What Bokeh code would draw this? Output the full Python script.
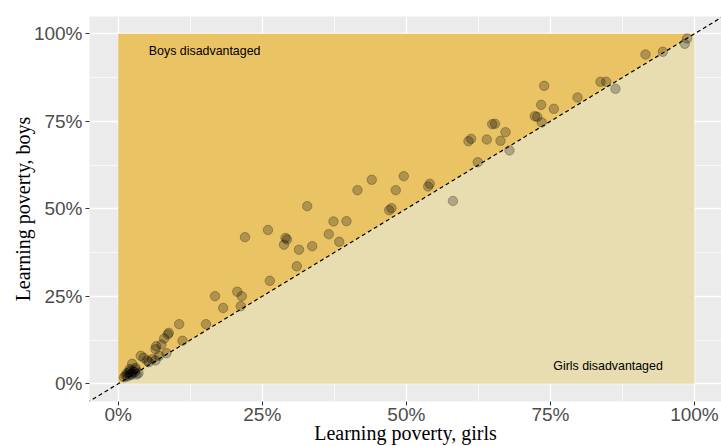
from bokeh.plotting import figure
from bokeh.models import Range1d, FixedTicker, NumeralTickFormatter, Label
from bokeh.embed import file_html
from bokeh.resources import INLINE

# Learning poverty (%) per country
girls = [1.27, 1.79, 2.13, 2.48, 2.65, 3.0, 2.43, 3.0, 3.52, 1.61, 1.96, 3.18, 1.0, 2.2, 2.9, 2.0, 1.5,
         3.92, 4.44, 5.03, 5.31, 5.9, 6.47, 6.59, 6.47, 7.11, 7.51, 7.98, 8.61, 8.78, 8.38, 10.58, 11.16,
         15.24, 16.8, 18.22, 20.65, 21.45, 21.27, 22.0, 25.99, 26.31, 29.03, 29.29, 28.77, 31.37, 30.99,
         32.8, 33.66, 36.54, 37.36, 38.35, 39.61, 41.52, 44.0, 47.02, 47.42, 48.17, 49.56, 53.79, 54.07,
         58.09, 60.78, 61.25, 62.4, 63.96, 64.9, 65.38, 66.34, 67.21, 67.9, 72.29, 72.71, 73.4, 73.5,
         73.92, 75.59, 79.7, 83.69, 84.68, 86.29, 91.5, 94.5, 98.32, 98.73]
boys = [2.37, 3.23, 3.8, 2.94, 3.51, 4.09, 5.71, 4.57, 3.03, 2.09, 2.66, 2.66, 1.8, 2.5, 3.3, 4.2, 3.0,
        8.0, 7.43, 6.66, 6.17, 7.03, 9.89, 10.74, 6.66, 8.0, 11.23, 12.94, 14.09, 14.57, 8.74, 17.03, 12.29,
        17.03, 25.03, 21.66, 26.31, 25.03, 22.17, 41.89, 43.94, 29.43, 41.66, 41.23, 39.74, 38.31, 33.57,
        50.74, 39.31, 42.74, 46.37, 40.57, 46.46, 55.31, 58.29, 49.6, 50.17, 55.31, 59.31, 56.37, 57.14,
        52.23, 69.31, 70.0, 63.31, 69.8, 74.17, 74.29, 69.43, 71.89, 66.66, 76.46, 76.29, 79.71, 74.66,
        85.14, 78.57, 81.8, 86.29, 86.29, 84.29, 94.09, 94.86, 97.14, 98.66]

limits = [0.0, 1.0]
major_ticks = [0.0, 0.25, 0.5, 0.75, 1.0]
minor_ticks = [0.125, 0.375, 0.625, 0.875]
labels = ["Boys disadvantaged", "Girls disadvantaged"]
label_pos = [(0.15, 0.95), (0.85, 0.05)]
x_title = "Learning poverty, girls"
y_title = "Learning poverty, boys"

gx = [v / 100 for v in girls]
by = [v / 100 for v in boys]

p = figure(width=721, height=446, output_backend="svg", toolbar_location=None,
           x_range=Range1d(-0.0498, 1.0469), y_range=Range1d(-0.0506, 1.0494),
           min_border_left=89, min_border_right=0, min_border_top=16, min_border_bottom=45)
p.background_fill_color = "#EBEBEB"
p.border_fill_color = "white"
p.outline_line_color = None

lo, hi = limits
# shaded regions
p.patch([lo, lo, hi], [lo, hi, hi], fill_color="#EAC364", line_color=None)
p.patch([lo, hi, hi], [lo, lo, hi], fill_color="#E7DDB0", line_color=None)

# 45-degree reference line
p.line([lo - 0.2, hi + 0.2], [lo - 0.2, hi + 0.2], line_color="black", line_width=1.2, line_dash="4 3")

p.scatter(gx, by, size=9.5, fill_color="black", fill_alpha=0.25, line_color="black", line_alpha=0.25)

for txt, (tx, ty) in zip(labels, label_pos):
    p.add_layout(Label(x=tx, y=ty, text=txt, text_align="center", text_baseline="middle",
                       text_font="Liberation Sans", text_font_size="12.4px", text_color="black"))

for ax in (p.xaxis[0], p.yaxis[0]):
    ax.ticker = FixedTicker(ticks=major_ticks, minor_ticks=minor_ticks)
    ax.formatter = NumeralTickFormatter(format="0%")
    ax.axis_line_color = None
    ax.major_tick_out = 4
    ax.major_tick_in = 0
    ax.minor_tick_out = 0
    ax.minor_tick_in = 0
    ax.major_tick_line_color = "#333333"
    ax.major_label_text_font = "Liberation Sans"
    ax.major_label_text_font_size = "19px"
    ax.major_label_text_color = "#4D4D4D"
    ax.axis_label_text_font = "Liberation Serif"
    ax.axis_label_text_font_size = "20px"
    ax.axis_label_text_font_style = "normal"
    ax.axis_label_text_color = "black"

p.xaxis.axis_label = x_title
p.yaxis.axis_label = y_title
p.xaxis.major_label_standoff = -2
p.xaxis.axis_label_standoff = -6
p.yaxis.major_label_standoff = 3
p.yaxis.axis_label_standoff = -3

for g in (p.xgrid[0], p.ygrid[0]):
    g.grid_line_color = "white"
    g.grid_line_width = 1.4
    g.minor_grid_line_color = "white"
    g.minor_grid_line_width = 0.7

open("out.html", "w").write(file_html(p, INLINE))
